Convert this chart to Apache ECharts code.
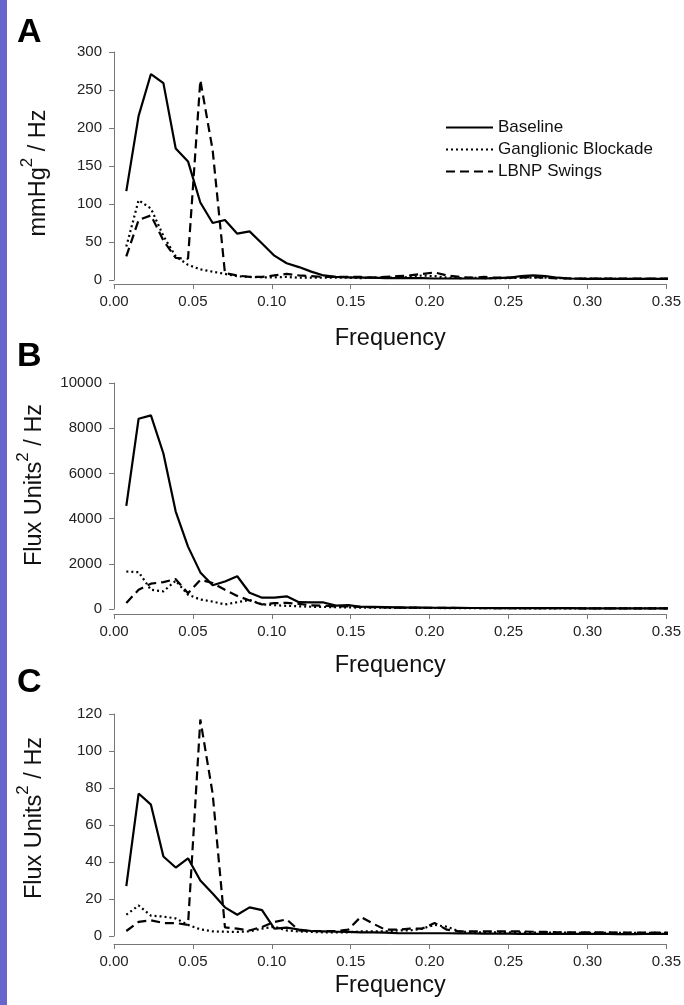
<!DOCTYPE html>
<html>
<head>
<meta charset="utf-8">
<title>Power spectra</title>
<script src="https://cdn.jsdelivr.net/npm/echarts@6/dist/echarts.min.js"></script>
<style>
html, body { margin: 0; padding: 0; background: #fff; }
#main { width: 684px; height: 1005px; }
</style>
</head>
<body>
<div id="main"></div>
<script>
var chart = echarts.init(document.getElementById('main'));

// frequency bins (Hz)
var freqs = [0.0078, 0.0156, 0.0234, 0.0313, 0.0391, 0.0469, 0.0547, 0.0625, 0.0703, 0.0781,
             0.0859, 0.0938, 0.1016, 0.1094, 0.1172, 0.1250, 0.1328, 0.1406, 0.1484, 0.1563,
             0.1641, 0.1719, 0.1797, 0.1875, 0.1953, 0.2031, 0.2109, 0.2188, 0.2266, 0.2344,
             0.2422, 0.2500, 0.2578, 0.2656, 0.2734, 0.2813, 0.2891, 0.2969, 0.3047, 0.3125,
             0.3203, 0.3281, 0.3359, 0.3438, 0.3516];

// A: blood pressure, mmHg^2/Hz
var aBaseline = [117, 216, 271, 259, 173, 156, 102, 75, 79, 61, 64, 48, 32, 22, 17, 11, 6, 4, 3.5, 3,
                 3, 2.5, 2.5, 2.5, 2.5, 2, 2, 2, 2, 2, 2.5, 3, 5, 6, 5, 3, 2, 1.5, 1.5, 1.5,
                 1.5, 1.5, 1.5, 1.5, 1.5];
var aGanglionic = [44, 105, 94, 58, 31, 20, 14, 11, 8, 5, 4, 3.5, 3.5, 4, 3, 3, 3, 3, 3, 2.5,
                   3, 3, 3, 4, 6, 5, 3, 2.5, 3, 2.5, 2.5, 2.5, 3, 3, 3, 2.5, 2, 2, 2, 2,
                   1.5, 1.5, 1.5, 1.5, 1.5];
var aLbnp = [31, 79, 85, 52, 29, 28, 263, 171, 9, 6, 4, 4, 6, 8, 6, 5, 4, 4, 4, 4,
             3, 4, 5, 6, 8, 10, 6, 4, 3, 4, 3, 3, 3, 4, 3, 2, 2, 2, 2, 2,
             2, 2, 2, 2, 2];

// B: flux, Flux Units^2/Hz
var bBaseline = [4560, 8420, 8570, 6880, 4310, 2760, 1620, 1050, 1220, 1450, 720, 500, 500, 560, 300, 290, 290, 150, 170, 100,
                 90, 80, 70, 60, 60, 55, 50, 50, 45, 45, 40, 40, 40, 40, 35, 35, 35, 30, 30, 30,
                 30, 30, 30, 30, 30];
var bGanglionic = [1660, 1630, 850, 780, 1250, 630, 420, 330, 200, 300, 400, 210, 170, 140, 120, 100, 90, 80, 70, 60,
                   60, 55, 50, 50, 45, 45, 40, 40, 40, 35, 35, 35, 30, 30, 30, 30, 30, 30, 25, 25,
                   25, 25, 25, 25, 25];
var bLbnp = [270, 850, 1120, 1190, 1320, 700, 1290, 1150, 850, 580, 380, 200, 260, 270, 230, 160, 150, 110, 110, 90,
             80, 70, 60, 60, 55, 50, 50, 45, 45, 40, 40, 40, 40, 35, 35, 35, 35, 30, 30, 30,
             30, 30, 30, 30, 30];

// C: flux, Flux Units^2/Hz
var cBaseline = [27, 77, 71, 43, 37, 42, 30, 23, 15.5, 11.5, 15.5, 14, 4, 4.5, 3.5, 2.7, 2.5, 2.3, 2.2, 2,
                 2, 1.8, 1.6, 1.5, 1.5, 1.5, 1.5, 1.4, 1.4, 1.3, 1.3, 1.3, 1.2, 1.2, 1.2, 1.2, 1.2, 1.1, 1.1, 1.1,
                 1, 1, 1.1, 1.2, 1.2];
var cGanglionic = [11.5, 16.5, 11, 10.5, 9.5, 6, 3.6, 2.5, 2.3, 2.2, 2.5, 4, 5, 3, 2.5, 2.2, 2, 2, 2, 2.5,
                   2.5, 2.5, 3, 3, 4, 6, 5, 2.5, 2, 2, 2, 2, 1.8, 1.8, 1.8, 1.8, 1.8, 1.7, 1.7, 1.7,
                   1.7, 1.7, 1.7, 1.7, 1.7];
var cLbnp = [2.7, 7.6, 8.5, 7, 7, 6, 117, 77, 4.7, 4, 3, 4.9, 7.6, 9, 3, 2.7, 2.7, 2.7, 3.4, 10.3,
             6.7, 3.4, 3.4, 4, 4, 7, 3.4, 2.5, 2.5, 2.5, 2.5, 2.5, 2.5, 2.3, 2.2, 2, 2, 2, 2, 2,
             1.8, 1.8, 1.8, 1.8, 1.8];

var seriesNames = ['Baseline', 'Ganglionic Blockade', 'LBNP Swings'];
var yMax = [300, 10000, 120];
var yStep = [50, 2000, 20];
var yNames = ['{a|mmHg}{b|2}{a| / Hz}', '{a|Flux Units}{b|2}{a| / Hz}', '{a|Flux Units}{b|2}{a| / Hz}'];

var font = "'Liberation Sans', Arial, sans-serif";
var axisColor = '#777';
var lineTypes = ['solid', [2, 3], [9, 5]];

function pairs(vals) {
    return vals.map(function (v, i) { return [freqs[i], v]; });
}

var grids = [
    { left: 114, right: 15, top: 52, height: 228 },
    { left: 114, right: 15, top: 383, height: 226 },
    { left: 114, right: 15, top: 714, height: 222 }
];
var xOffsets = [4, 5, 8];
var xNameGaps = [43, 40, 30];
var yNameGaps = [55, 59, 59];
var yNamePads = [[0, 14, 0, 0], [0, 0, 0, 22], [0, 0, 0, 14]];

var xAxes = [], yAxes = [], series = [];
var panelData = [
    [aBaseline, aGanglionic, aLbnp],
    [bBaseline, bGanglionic, bLbnp],
    [cBaseline, cGanglionic, cLbnp]
];

for (var i = 0; i < 3; i++) {
    xAxes.push({
        gridIndex: i, type: 'value', min: 0, max: 0.35, interval: 0.05,
        offset: xOffsets[i],
        axisLine: { onZero: false, lineStyle: { color: axisColor, width: 1 } },
        axisTick: { length: 5, lineStyle: { color: axisColor } },
        axisLabel: {
            fontSize: 15, color: '#222', fontFamily: font, margin: 10,
            formatter: function (v) { return v.toFixed(2); }
        },
        splitLine: { show: false },
        name: 'Frequency', nameLocation: 'middle', nameGap: xNameGaps[i],
        nameTextStyle: { fontSize: 23.5, color: '#111', fontFamily: font }
    });
    yAxes.push({
        gridIndex: i, type: 'value', min: 0, max: yMax[i], interval: yStep[i],
        axisLine: { show: true, lineStyle: { color: axisColor, width: 1 } },
        axisTick: { show: true, length: 5, lineStyle: { color: axisColor } },
        axisLabel: {
            fontSize: 15, color: '#222', fontFamily: font, margin: 12,
            formatter: function (v) { return String(v); }
        },
        splitLine: { show: false },
        name: yNames[i], nameLocation: 'middle', nameGap: yNameGaps[i],
        nameTextStyle: {
            color: '#111',
            padding: yNamePads[i],
            rich: {
                a: { fontSize: 23.5, lineHeight: 40, fontFamily: font, color: '#111' },
                b: { fontSize: 17, lineHeight: 6, fontFamily: font, color: '#111', verticalAlign: 'top' }
            }
        }
    });
    for (var s = 0; s < 3; s++) {
        series.push({
            name: seriesNames[s], type: 'line',
            xAxisIndex: i, yAxisIndex: i,
            data: pairs(panelData[i][s]),
            symbol: 'none', clip: true,
            lineStyle: { color: '#000', width: 2.2, type: lineTypes[s] },
            itemStyle: { color: '#000' }
        });
    }
}

var option = {
    animation: false,
    backgroundColor: '#fff',
    grid: grids,
    xAxis: xAxes,
    yAxis: yAxes,
    legend: {
        data: seriesNames,
        orient: 'vertical',
        left: 440, top: 114,
        itemWidth: 47, itemHeight: 14, itemGap: 5,
        itemStyle: { opacity: 0 },
        textStyle: { fontSize: 17, color: '#111', fontFamily: font }
    },
    graphic: [
        { type: 'rect', left: 0, top: 0, shape: { width: 7, height: 1005 }, style: { fill: '#6666cc' } },
        { type: 'text', left: 17, top: 16, style: { text: 'A', font: 'bold 34px ' + font, fill: '#000' } },
        { type: 'text', left: 17, top: 340, style: { text: 'B', font: 'bold 34px ' + font, fill: '#000' } },
        { type: 'text', left: 17, top: 666, style: { text: 'C', font: 'bold 34px ' + font, fill: '#000' } }
    ],
    series: series
};

chart.setOption(option);
</script>
</body>
</html>
